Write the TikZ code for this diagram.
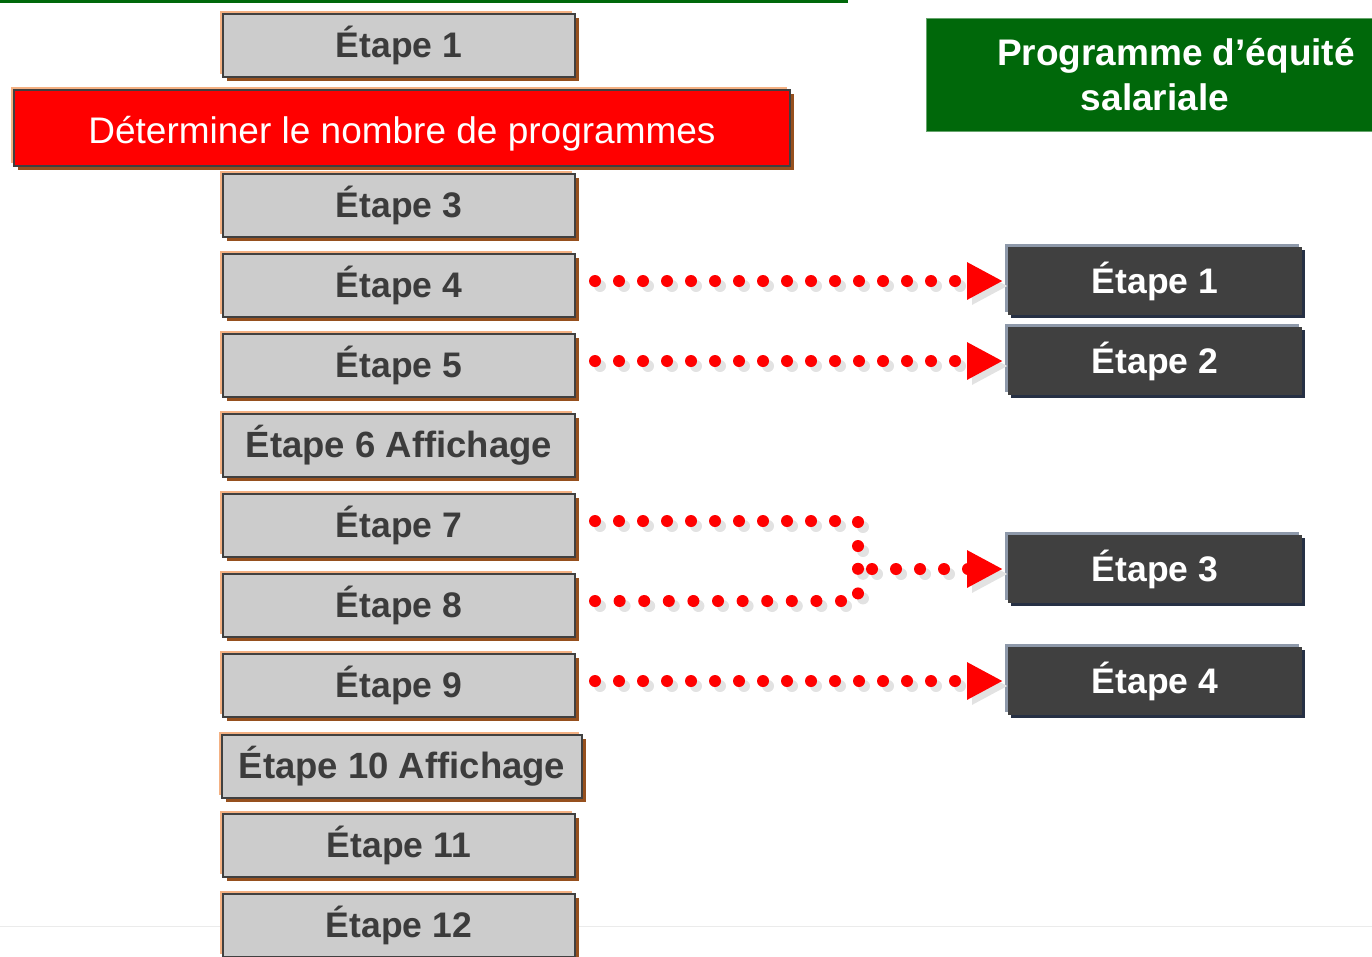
\documentclass[tikz,border=0pt]{standalone}
\usepackage{fontspec}
\setmainfont{Liberation Sans}
\usetikzlibrary{shadows,arrows.meta}
\definecolor{greenC}{RGB}{0,104,10}
\definecolor{boxfill}{RGB}{204,204,204}
\definecolor{boxborder}{RGB}{64,64,64}
\definecolor{textdark}{RGB}{60,60,60}
\definecolor{peach}{RGB}{244,177,131}
\definecolor{brownsh}{RGB}{150,80,30}
\definecolor{darkbox}{RGB}{64,64,64}
\definecolor{dhigh}{RGB}{142,153,170}
\definecolor{dshadow}{RGB}{38,48,68}
\definecolor{shadowgrey}{RGB}{226,226,226}
\definecolor{faint}{RGB}{235,235,235}
\begin{document}
\begin{tikzpicture}[x=1pt,y=-1pt,
  gbox/.style={draw=boxborder, line width=2.5pt, fill=boxfill,
    minimum width=352pt, minimum height=63pt, inner sep=0pt, outer sep=0pt,
    font=\fontsize{35.5}{40}\selectfont\bfseries, text=textdark,
    general shadow={fill=peach, shadow xshift=-3pt, shadow yshift=3pt},
    general shadow={fill=brownsh, shadow xshift=4pt, shadow yshift=-4pt}},
  bigtext/.style={font=\fontsize{36.5}{40}\selectfont\bfseries},
  redbox/.style={draw=boxborder, line width=2.5pt, fill=red,
    minimum width=776pt, minimum height=76pt, inner sep=0pt, outer sep=0pt,
    font=\fontsize{37}{42}\selectfont, text=white,
    text height=37.8pt, text depth=7.8pt,
    general shadow={fill=peach, shadow xshift=-3pt, shadow yshift=3pt},
    general shadow={fill=brownsh, shadow xshift=4pt, shadow yshift=-4pt}},
  dbox/.style={fill=darkbox, minimum width=294pt, minimum height=68pt,
    inner sep=0pt, outer sep=0pt,
    font=\fontsize{35.5}{40}\selectfont\bfseries, text=white,
    general shadow={fill=dhigh, shadow xshift=-3pt, shadow yshift=3pt},
    general shadow={fill=dshadow, shadow xshift=3pt, shadow yshift=-3pt}},
  greenbox/.style={fill=greenC, draw=greenC!60!white, line width=0.8pt,
    minimum width=500pt, minimum height=113pt, inner sep=0pt,
    font=\fontsize{37}{45}\selectfont\bfseries, text=white, align=center},
  dotline/.style={draw=red, line width=12pt, line cap=round,
    dash pattern=on 0pt off 24pt},
  dotshadow/.style={dotline, draw=shadowgrey,
    transform canvas={shift={(5pt,-5pt)}}},
  arr/.style={-{Triangle[length=36pt,width=35pt]}, shorten >=5pt}
]
\useasboundingbox (0,0) rectangle (1372,956);
\clip (0,0) rectangle (1372,956);

% background lines
\draw[faint, line width=1pt] (0,926) -- (1372,926);
\draw[greenC, line width=3pt] (0,1) -- (848,1);

% title
\node[greenbox] (title) at (1176,74.5) {Programme d’équité\\salariale\rule{42pt}{0pt}};

% left column
\node[gbox] (g1) at (399,45.5) {Étape 1};
\node[redbox] (r2) at (402,128) {Déterminer le nombre de programmes};
\node[gbox] (g3) at (399,205.5) {Étape 3};
\node[gbox] (g4) at (399,285.5) {Étape 4};
\node[gbox] (g5) at (399,365.5) {Étape 5};
\node[gbox, bigtext] (g6) at (399,445.5) {Étape 6 Affichage};
\node[gbox] (g7) at (399,525.5) {Étape 7};
\node[gbox] (g8) at (399,605.5) {Étape 8};
\node[gbox] (g9) at (399,685.5) {Étape 9};
\node[gbox, bigtext, minimum width=360pt] (g10) at (402,766.5) {Étape 10 Affichage};
\node[gbox] (g11) at (399,845.5) {Étape 11};
\node[gbox] (g12) at (399,925.5) {Étape 12};

% right column
\node[dbox] (d1) at (1155,281) {Étape 1};
\node[dbox] (d2) at (1155,361) {Étape 2};
\node[dbox] (d3) at (1155,569) {Étape 3};
\node[dbox] (d4) at (1155,681) {Étape 4};

% connector start / junction points
\coordinate (s4) at ([xshift=20pt,yshift=4.5pt]g4.east);
\coordinate (s5) at ([xshift=20pt,yshift=4.5pt]g5.east);
\coordinate (s7) at ([xshift=20pt,yshift=4.5pt]g7.east);
\coordinate (s8) at ([xshift=20pt,yshift=4.5pt]g8.east);
\coordinate (s9) at ([xshift=20pt,yshift=4.5pt]g9.east);
\coordinate (j) at (858,569);
\coordinate (j8) at (858,567);

% shadows of connectors
\draw[dotshadow, arr] (s4) -- (d1.west);
\draw[dotshadow, arr] (s5) -- (d2.west);
\draw[dotshadow] (s7) -| (j);
\draw[dotshadow, dash pattern=on 0pt off 24.6pt] (s8) -| (j8);
\draw[dotshadow, arr, dash phase=10pt] (j) -- (d3.west);
\draw[dotshadow, arr] (s9) -- (d4.west);

% connectors
\draw[dotline, arr] (s4) -- (d1.west);
\draw[dotline, arr] (s5) -- (d2.west);
\draw[dotline] (s7) -| (j);
\draw[dotline, dash pattern=on 0pt off 24.6pt] (s8) -| (j8);
\draw[dotline, arr, dash phase=10pt] (j) -- (d3.west);
\draw[dotline, arr] (s9) -- (d4.west);
\end{tikzpicture}
\end{document}
